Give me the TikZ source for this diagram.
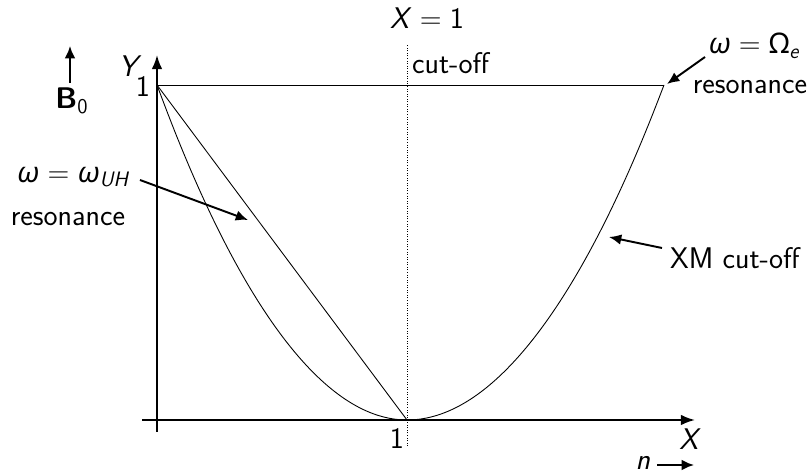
\documentclass[tikz,border=0pt]{standalone}
\usepackage{fontspec}
\newfontfamily\grkfont[Scale=0.95]{Noto Sans}
\newcommand{\slt}[1]{\textit{#1}}
\newcommand{\grk}[1]{{\grkfont #1}}
\usetikzlibrary{positioning,calc,arrows.meta}

\begin{document}
\begin{tikzpicture}[x=0.02cm, y=-0.02cm,
    font=\sffamily\fontsize{17}{20}\selectfont,
    axis/.style={line width=1.1pt, -{Latex[length=8pt,width=6pt]}},
    curve/.style={line width=0.5pt},
    pointer/.style={line width=1.1pt, -{Latex[length=7pt,width=6pt]}},
    lbl/.style={inner sep=1pt}
]
\useasboundingbox (0,0) rectangle (808,475);

\def\ox{157}
\def\oy{420}
\def\onex{407}
\def\oney{85}

% axes
\coordinate (xstart) at (142,\oy);
\coordinate (xend) at (695,\oy);
\coordinate (ystart) at (\ox,432);
\coordinate (yend) at (\ox,55);
\draw[axis] (xstart) -- (xend);
\draw[axis] (ystart) -- (yend);

% curves
\coordinate (top) at (\ox,\oney);
\coordinate (vertex) at (\onex,\oy);
\coordinate (topright) at (664,\oney);
\coordinate (cutbot) at (\onex,446);
\coordinate (cuttop) at (\onex,44);
\draw[curve] (top) -- (topright);
\draw[curve] (top) -- (vertex);
\draw[curve] (top) parabola bend (vertex) (topright);
\draw[densely dotted, line width=0.45pt] (cutbot) -- (cuttop);

% axis labels
\node[lbl] (ylab) at (130,66) {\slt{Y}};
\node[lbl, anchor=east] (yone) at (152,86) {1};
\node[lbl] (xone) at (397,438) {1};
\node[lbl] (xlab) at (690,439) {\slt{X}};
\node[lbl] (xeq) at (427,18) {\slt{X}\;=\;1};
\node[lbl, anchor=west] (cutlab) at (410,63) {cut-off};

% field direction
\node[lbl] (bzero) at (72,101) {\textbf{B}\textsubscript{0}};
\coordinate (bbase) at (70,83);
\coordinate (btip) at (70,46);
\draw[pointer] (bbase) -- (btip);

% electron cyclotron resonance
\node[lbl] (omegae) at (754,46) {\grk{\itshape ω}\;=\;\grk{Ω}\textsubscript{\itshape e}};
\node[lbl] (resone) at (750,87) {resonance};
\coordinate (etail) at (705,57);
\coordinate (ehead) at (667,84);
\draw[pointer] (etail) -- (ehead);

% upper hybrid resonance
\node[lbl] (omegauh) at (73,177) {\grk{\itshape ω}\;=\;\grk{\itshape ω}\textsubscript{\itshape UH}};
\node[lbl] (resuh) at (68,219) {resonance};
\coordinate (uhtail) at (140,180);
\coordinate (uhhead) at (248,220);
\draw[pointer] (uhtail) -- (uhhead);

% XM cut-off
\node[lbl, anchor=west] (xmlab) at (668,258) {XM cut-off};
\coordinate (xmtail) at (662,248);
\coordinate (xmhead) at (609,237);
\draw[pointer] (xmtail) -- (xmhead);

% refractive index direction
\node[lbl] (nlab) at (643,463) {\slt{n}};
\coordinate (ntail) at (657,465);
\coordinate (nhead) at (694,465);
\draw[pointer] (ntail) -- (nhead);

\end{tikzpicture}
\end{document}
